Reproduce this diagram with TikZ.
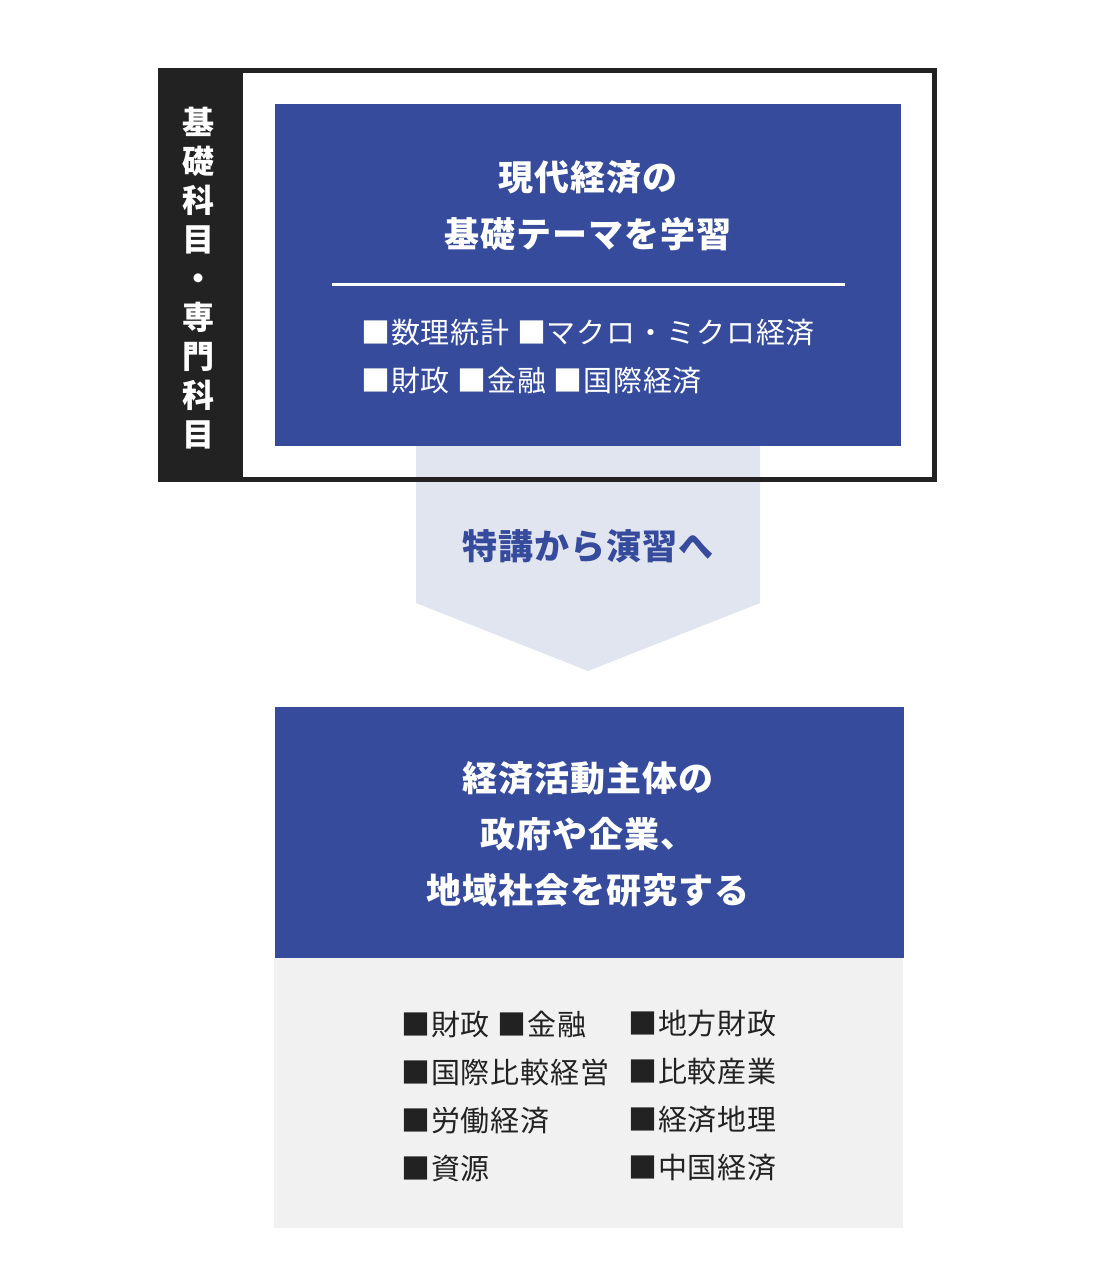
\documentclass[tikz,border=0pt]{standalone}
\usepackage{fontspec}
\setmainfont{Noto Sans CJK JP}[LetterSpace=3]
\newfontfamily\vjp{Noto Sans CJK JP}
\definecolor{navy}{RGB}{54,75,156}
\definecolor{paleblue}{RGB}{225,229,240}
\definecolor{palegray}{RGB}{241,241,241}
\definecolor{ink}{RGB}{34,34,34}
\tikzset{
  title/.style={text=white, font=\bfseries\fontsize{35}{57}\selectfont, align=center, inner sep=0},
  items/.style={text=white, font=\fontsize{29}{48}\selectfont, align=left, inner sep=0, anchor=west},
  darkitems/.style={text=ink, font=\fontsize{29}{48}\selectfont, align=left, inner sep=0, anchor=west},
}
\begin{document}
\begin{tikzpicture}[x=1pt,y=-1pt]
\useasboundingbox (0,0) rectangle (1095,1278);
% frame background
\fill[white] (158,68) rectangle (937,482);
% arrow
\fill[paleblue] (416,446) -- (760,446) -- (760,603) -- (588,671) -- (416,603) -- cycle;
\node[text=navy, font=\bfseries\fontsize{35}{40}\selectfont, inner sep=0] (arrowtxt) at (588,546) {特講から演習へ};
% top blue box
\fill[navy] (275,104) rectangle (901,446);
\node[title] (toptitle) at (588,206) {現代経済の\\基礎テーマを学習};
\draw[white, line width=3] (332,284) -- (845,284);
\node[items] (topitems) at (361,357) {■数理統計 ■マクロ・ミクロ経済\\■財政 ■金融 ■国際経済};
% dark band and frame border
\fill[ink] (158,68) rectangle (243,482);
\draw[ink, line width=5] (160.5,70.5) rectangle (934.5,479.5);
\node[text=white, font=\vjp\bfseries\fontsize{32}{39}\selectfont, align=center, inner sep=0] (vert) at (198,278)
  {基\\礎\\科\\目\\・\\専\\門\\科\\目};
% bottom blue box
\fill[navy] (275,707) rectangle (904,958);
\node[title, font=\bfseries\fontsize{35}{56}\selectfont] (bottitle) at (588,834) {経済活動主体の\\政府や企業、\\地域社会を研究する};
% gray box
\fill[palegray] (274,958) rectangle (903,1228);
\node[darkitems] (leftcol) at (401,1096) {■財政 ■金融\\■国際比較経営\\■労働経済\\■資源};
\node[darkitems] (rightcol) at (628,1096) {■地方財政\\■比較産業\\■経済地理\\■中国経済};
\end{tikzpicture}
\end{document}
